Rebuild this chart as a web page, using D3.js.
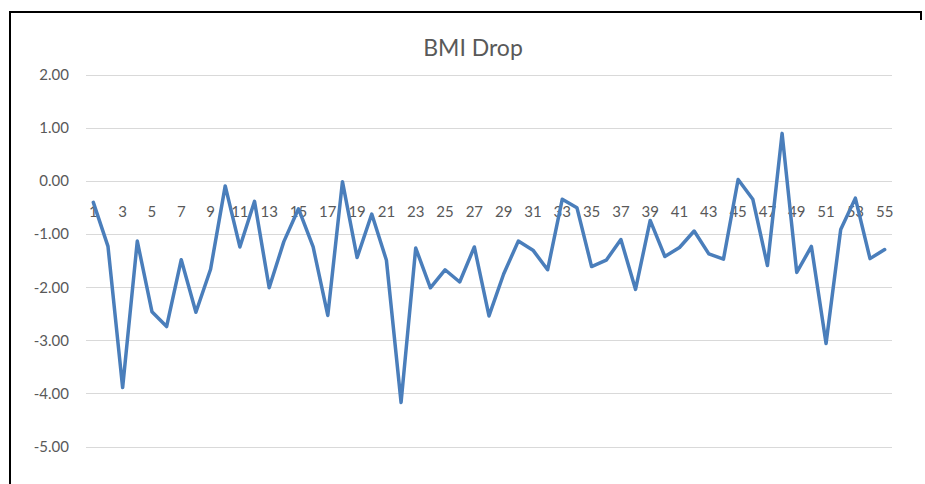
<!DOCTYPE html>
<html>
<head>
<meta charset="utf-8">
<script src="https://cdn.jsdelivr.net/npm/d3@7"></script>
<style>
  body { margin: 0; background: #fff; }
  text { font-family: Lato, "Open Sans", sans-serif; }
</style>
</head>
<body>
<svg id="chart" width="925" height="484"></svg>
<script>
// categories 1..55
var categories = [];
for (var i = 1; i <= 55; i++) categories.push(i);

var bmiDrop = [
    -0.40, -1.23, -3.89, -1.13, -2.46, -2.74, -1.48, -2.47, -1.66, -0.09,
    -1.24, -0.38, -2.01, -1.14, -0.52, -1.24, -2.53, -0.01, -1.44, -0.62,
    -1.49, -4.17, -1.26, -2.01, -1.67, -1.90, -1.24, -2.54, -1.75, -1.13,
    -1.30, -1.67, -0.34, -0.50, -1.61, -1.49, -1.10, -2.04, -0.74, -1.42,
    -1.25, -0.94, -1.37, -1.47, 0.03, -0.34, -1.59, 0.90, -1.72, -1.23,
    -3.06, -0.91, -0.32, -1.46, -1.29
];

var yTicks = [2, 1, 0, -1, -2, -3, -4, -5];

var svg = d3.select('#chart');

// outer frame (top + left edges visible)
svg.append('path')
    .attr('d', 'M10,484 L10,12 L921,12 L921,20')
    .style('fill', 'none')
    .style('stroke', 'black')
    .style('stroke-width', 2);

svg.append('text')
    .attr('x', 473)
    .attr('y', 56)
    .attr('text-anchor', 'middle')
    .attr('font-size', 23)
    .attr('fill', '#595959')
    .text('BMI Drop');

var x = d3.scaleBand()
    .domain(categories)
    .range([86, 892]);

var y = d3.scaleLinear()
    .domain([-5, 2])
    .range([446.5, 75]);

function px(c) { return x(c) + x.bandwidth() / 2; }

// gridlines
svg.append('g')
    .selectAll('line')
    .data(yTicks)
    .enter()
    .append('line')
    .attr('x1', 86)
    .attr('x2', 892)
    .attr('y1', function (d) { return Math.round(y(d)) + 0.5; })
    .attr('y2', function (d) { return Math.round(y(d)) + 0.5; })
    .style('stroke', '#d9d9d9')
    .style('stroke-width', 1);

// y labels
svg.append('g')
    .selectAll('text')
    .data(yTicks)
    .enter()
    .append('text')
    .attr('x', 69)
    .attr('y', function (d) { return y(d); })
    .attr('dy', '0.35em')
    .attr('text-anchor', 'end')
    .attr('font-size', 15)
    .attr('fill', '#595959')
    .text(function (d) { return d.toFixed(2); });

// category labels sit under the zero line
svg.append('g')
    .selectAll('text')
    .data(categories.filter(function (c) { return c % 2 === 1; }))
    .enter()
    .append('text')
    .attr('x', function (c) { return px(c); })
    .attr('y', y(0) + 31)
    .attr('dy', '0.35em')
    .attr('text-anchor', 'middle')
    .attr('font-size', 15)
    .attr('fill', '#595959')
    .text(function (c) { return c; });

var line = d3.line()
    .x(function (d, i) { return px(categories[i]); })
    .y(function (d) { return y(d); });

svg.append('path')
    .datum(bmiDrop)
    .attr('d', line)
    .style('fill', 'none')
    .style('stroke', '#4a7ebb')
    .style('stroke-width', 3.5)
    .style('stroke-linejoin', 'round')
    .style('stroke-linecap', 'round');
</script>
</body>
</html>
